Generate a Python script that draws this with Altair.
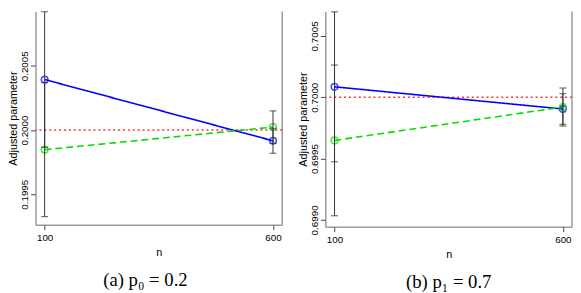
import altair as alt
import pandas as pd

# ---- data ----
n_values = [100, 600]
series_names = ["Blue", "Green"]

# panel (a): p0 = 0.2
a_true = 0.2
a_blue = [0.200393, 0.199916]
a_green = [0.199847, 0.200023]
a_blue_err = [0.000528, 0.000097]
a_green_err = [0.000521, 0.000126]
a_ticks = [0.1995, 0.2000, 0.2005]
a_domain = [0.199263, 0.200923]

# panel (b): p1 = 0.7
b_true = 0.7
b_blue = [0.700085, 0.699904]
b_green = [0.699648, 0.699920]
b_blue_err = [0.000611, 0.000125]
b_green_err = [0.000614, 0.000155]
b_ticks = [0.6990, 0.6995, 0.7000, 0.7005]
b_domain = [0.698945, 0.700699]

x_ticks = [100, 600]
x_domain = [80, 620]

AX_FONT = "Liberation Sans"
CAP_FONT = "Liberation Serif"


def make_df(blue, green, blue_err, green_err):
    rows = []
    for name, vals, errs in (("Blue", blue, blue_err), ("Green", green, green_err)):
        for n, v, e in zip(n_values, vals, errs):
            rows.append({"n": n, "value": v, "lo": v - e, "hi": v + e, "series": name})
    return pd.DataFrame(rows)


def panel(df, true_val, ticks, domain, caption, width, height, frame):
    x = alt.X("n:Q", scale=alt.Scale(domain=x_domain, nice=False, zero=False),
              axis=alt.Axis(values=x_ticks, title="n", format="d", grid=False,
                            tickSize=5, labelPadding=3, titlePadding=4,
                            labelFont=AX_FONT, titleFont=AX_FONT,
                            labelFontSize=10, titleFontSize=11,
                            titleFontWeight="normal", labelColor="black",
                            titleColor="black", domainColor="#666",
                            tickColor="#444"))
    y = alt.Y("value:Q", scale=alt.Scale(domain=domain, nice=False, zero=False),
              axis=alt.Axis(values=ticks, title="Adjusted parameter", format=".4f",
                            grid=False, tickSize=5, labelPadding=1, titlePadding=1,
                            labelAngle=270, labelAlign="center", labelBaseline="bottom",
                            labelFont=AX_FONT, titleFont=AX_FONT,
                            labelFontSize=10, titleFontSize=11,
                            titleFontWeight="normal", labelColor="black",
                            titleColor="black", domainColor="#666",
                            tickColor="#444"))
    color = alt.Color("series:N", scale=alt.Scale(domain=series_names,
                                                   range=["#0000ff", "#00e000"]),
                      legend=None)
    dash = alt.StrokeDash("series:N", scale=alt.Scale(domain=series_names,
                                                       range=[[1, 0], [7, 4]]),
                          legend=None)
    base = alt.Chart(df)
    lines = base.mark_line(strokeWidth=1.6).encode(x=x, y=y, color=color, strokeDash=dash)
    pts = base.mark_point(shape="circle", filled=False, size=45, strokeWidth=1.6).encode(
        x="n:Q", y="value:Q", color=color)
    ref = alt.Chart(pd.DataFrame({"t": [true_val]})).mark_rule(
        color="#ff3030", strokeWidth=1.5, strokeDash=[2, 3]).encode(y="t:Q")
    bars = base.mark_rule(color="#333", strokeWidth=1).encode(x="n:Q", y="lo:Q", y2="hi:Q")
    cap_lo = base.mark_tick(color="#333", orient="horizontal", size=7, thickness=1.2).encode(
        x="n:Q", y="lo:Q")
    cap_hi = base.mark_tick(color="#333", orient="horizontal", size=7, thickness=1.2).encode(
        x="n:Q", y="hi:Q")
    right = alt.Chart(pd.DataFrame({"k": [0]})).mark_rule(color="#666", strokeWidth=1).encode(
        x=alt.value(width), y=alt.value(0), y2=alt.value(height))
    return alt.layer(ref, lines, pts, bars, cap_lo, cap_hi, right).properties(
        width=width, height=height,
        title=alt.TitleParams(text=caption, orient="bottom", font=CAP_FONT,
                              fontSize=19, fontWeight="normal", color="black",
                              anchor="middle", frame=frame, offset=14))


chart_a = panel(make_df(a_blue, a_green, a_blue_err, a_green_err), a_true, a_ticks,
                a_domain, "(a) p\u2080 = 0.2", 251, 217, "bounds")
chart_b = panel(make_df(b_blue, b_green, b_blue_err, b_green_err), b_true, b_ticks,
                b_domain, "(b) p\u2081 = 0.7", 251, 219, "group")

chart = alt.hconcat(chart_a, chart_b, spacing=15).properties(padding=0).configure_view(
    stroke="transparent", strokeWidth=0)

chart.save("out.html", embed_options={"renderer": "svg", "actions": False})
